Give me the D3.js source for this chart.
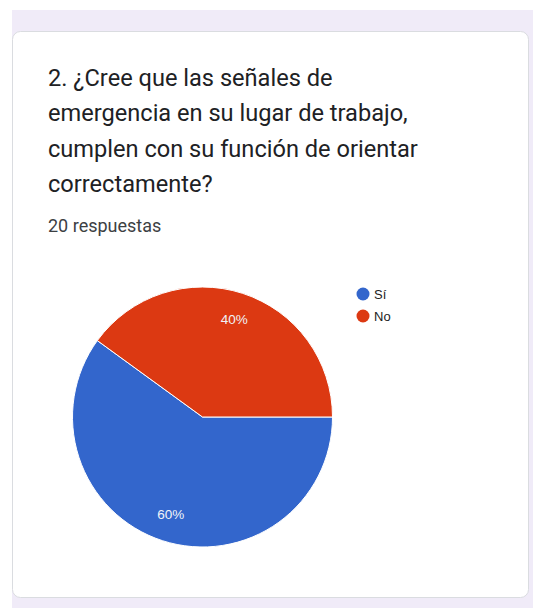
<!DOCTYPE html>
<html><head><meta charset="utf-8">
<script src="https://cdn.jsdelivr.net/npm/d3@7"></script>
<style>
html,body{margin:0;padding:0;background:#fff;}
svg{display:block;}
</style></head>
<body>
<svg id="c" width="533" height="608"></svg>
<script>
const categories = ["Sí", "No"];
const values = [60, 40];
const labels = ["60%", "40%"];
const colors = ["#3366cc", "#dc3912"];
const titleLines = ["2. ¿Cree que las señales de", "emergencia en su lugar de trabajo,", "cumplen con su función de orientar", "correctamente?"];
const subtitle = "20 respuestas";

const svg = d3.select("#c");
const font = "Roboto, Arial, sans-serif";

// background band
svg.append("rect").attr("x", 12).attr("y", 10).attr("width", 521).attr("height", 598).attr("fill", "#f0ebf8");
// card
svg.append("rect").attr("x", 12.5).attr("y", 31.5).attr("width", 516).attr("height", 566).attr("rx", 8)
  .attr("fill", "#fff").attr("stroke", "#dadce0").attr("stroke-width", 1);

const tg = svg.append("g").attr("font-family", font).attr("font-size", 23.6).attr("fill", "#202124");
titleLines.forEach((t, i) => {
  tg.append("text").attr("x", 48).attr("y", 86 + i * 35.3).text(t);
});
svg.append("text").attr("x", 48).attr("y", 232).attr("font-family", font).attr("font-size", 18)
  .attr("fill", "#3c4043").text(subtitle);

const cx = 202.5, cy = 417, r = 130;
const pie = d3.pie().sort(null).startAngle(Math.PI / 2).endAngle(Math.PI / 2 + 2 * Math.PI);
const arcs = pie(values);
const arc = d3.arc().innerRadius(0).outerRadius(r);
const g = svg.append("g").attr("transform", `translate(${cx},${cy})`);
g.selectAll("path").data(arcs).join("path")
  .attr("d", arc).attr("fill", (d, i) => colors[i]).attr("stroke", "#fff").attr("stroke-width", 1);

const labelArc = d3.arc().innerRadius(r * 0.79).outerRadius(r * 0.79);
g.selectAll("text").data(arcs).join("text")
  .attr("transform", d => `translate(${labelArc.centroid(d)})`)
  .attr("text-anchor", "middle").attr("dy", "0.35em")
  .attr("font-family", "Arial, 'Liberation Sans', sans-serif").attr("font-size", 13.5)
  .attr("fill", "#f1f3f8").text((d, i) => labels[i]);

const lg = svg.append("g").attr("font-family", "Arial, 'Liberation Sans', sans-serif").attr("font-size", 13).attr("fill", "#222");
categories.forEach((c, i) => {
  const y = 294 + i * 22;
  lg.append("circle").attr("cx", 363).attr("cy", y).attr("r", 6.5).attr("fill", colors[i]);
  lg.append("text").attr("x", 374).attr("y", y).attr("dy", "0.35em").text(c);
});
</script>
</body></html>
